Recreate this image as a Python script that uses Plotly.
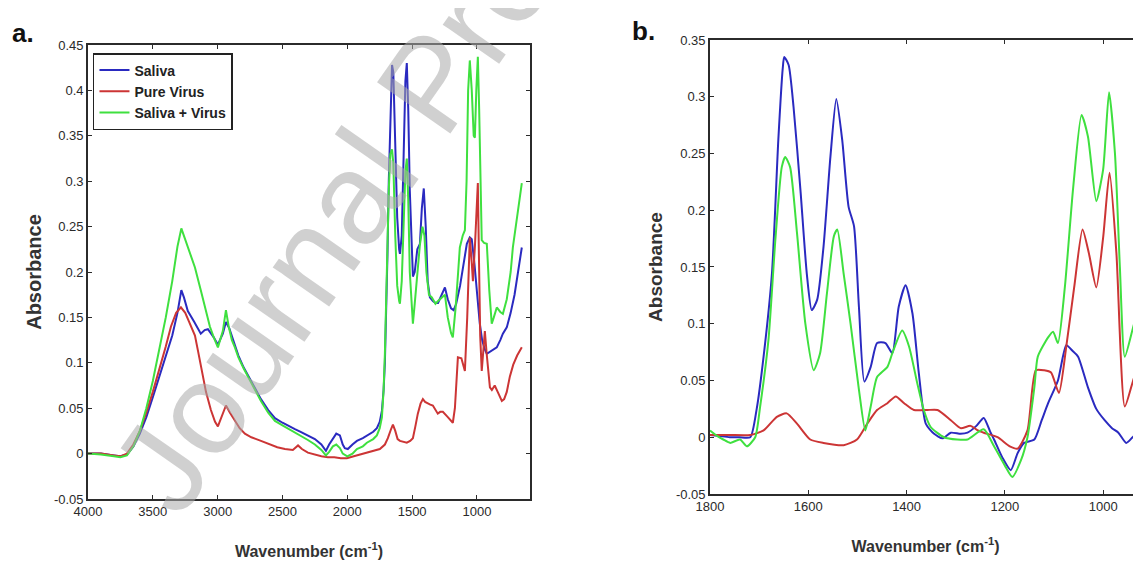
import plotly.graph_objects as go

# ---------------- Panel a data ----------------
wn_saliva_a = [4000,3900,3800,3750,3700,3650,3600,3550,3500,3450,3400,3350,3310,3280,3260,3230,3180,3130,3100,3075,3030,2998,2960,2936,2910,2880,2840,2800,2766,2720,2666,2610,2558,2500,2450,2404,2360,2304,2250,2200,2165,2140,2111,2085,2057,2035,2019,1996,1960,1926,1880,1849,1800,1772,1750,1733,1720,1710,1700,1690,1680,1668,1655,1645,1630,1615,1600,1594,1580,1565,1552,1541,1530,1518,1502,1494,1480,1460,1440,1425,1410,1395,1380,1363,1340,1320,1300,1270,1247,1225,1200,1180,1160,1130,1100,1078,1055,1040,1020,1000,978,960,940,924,900,870,847,820,800,770,740,710,693,670,654]
abs_saliva_a = [0.000,0.000,-0.002,-0.003,-0.001,0.008,0.022,0.040,0.062,0.085,0.108,0.130,0.155,0.180,0.172,0.157,0.145,0.132,0.136,0.137,0.128,0.120,0.132,0.145,0.138,0.125,0.108,0.095,0.086,0.074,0.060,0.048,0.039,0.034,0.030,0.027,0.024,0.020,0.016,0.010,0.003,0.010,0.017,0.022,0.020,0.010,0.006,0.005,0.010,0.014,0.017,0.020,0.024,0.028,0.035,0.047,0.070,0.100,0.150,0.220,0.300,0.380,0.428,0.420,0.330,0.260,0.225,0.220,0.240,0.320,0.410,0.430,0.380,0.290,0.230,0.195,0.200,0.225,0.231,0.270,0.292,0.250,0.190,0.172,0.168,0.166,0.166,0.175,0.183,0.170,0.160,0.158,0.165,0.185,0.210,0.231,0.238,0.236,0.210,0.175,0.143,0.125,0.115,0.110,0.112,0.115,0.117,0.125,0.132,0.139,0.155,0.175,0.190,0.210,0.227]

wn_virus_a = [4000,3900,3800,3750,3700,3650,3600,3550,3500,3450,3400,3360,3320,3283,3250,3220,3175,3150,3129,3090,3052,3020,2998,2970,2936,2905,2867,2830,2790,2740,2666,2600,2540,2481,2420,2380,2350,2304,2250,2200,2150,2100,2050,2003,1950,1900,1849,1800,1749,1710,1687,1665,1648,1630,1612,1594,1565,1541,1515,1494,1475,1456,1435,1417,1400,1379,1360,1340,1320,1302,1283,1263,1230,1200,1186,1170,1155,1147,1120,1093,1075,1060,1055,1040,1031,1015,1000,993,985,975,963,950,939,925,910,900,885,863,840,808,790,770,746,720,690,654]
abs_virus_a = [0.000,0.000,-0.002,-0.003,0.000,0.010,0.025,0.045,0.068,0.092,0.118,0.140,0.155,0.161,0.155,0.145,0.130,0.112,0.095,0.068,0.048,0.035,0.030,0.040,0.053,0.045,0.036,0.028,0.022,0.018,0.014,0.010,0.007,0.005,0.004,0.009,0.005,0.001,-0.001,-0.003,-0.004,-0.004,-0.005,-0.005,-0.003,-0.001,0.001,0.003,0.005,0.010,0.017,0.026,0.032,0.025,0.016,0.014,0.013,0.012,0.014,0.017,0.030,0.044,0.055,0.060,0.057,0.055,0.054,0.053,0.049,0.044,0.046,0.046,0.041,0.036,0.034,0.050,0.080,0.106,0.105,0.091,0.150,0.225,0.238,0.210,0.190,0.230,0.280,0.298,0.220,0.130,0.091,0.120,0.135,0.110,0.085,0.073,0.070,0.075,0.068,0.058,0.060,0.068,0.085,0.098,0.108,0.117]

wn_mix_a = [4000,3900,3800,3750,3700,3650,3600,3550,3500,3450,3400,3350,3310,3280,3250,3200,3175,3130,3098,3060,3030,2998,2960,2936,2915,2890,2867,2840,2800,2766,2720,2666,2610,2558,2500,2450,2404,2360,2304,2250,2200,2165,2140,2111,2085,2057,2035,2000,1960,1926,1880,1849,1800,1772,1750,1733,1720,1710,1700,1690,1680,1668,1655,1645,1630,1615,1600,1594,1580,1565,1552,1541,1530,1518,1502,1494,1480,1460,1440,1420,1405,1390,1370,1348,1320,1300,1270,1247,1225,1200,1186,1165,1145,1132,1110,1093,1080,1068,1055,1040,1025,1016,1005,993,983,970,963,945,924,905,886,870,847,820,800,770,740,723,700,680,654]
abs_mix_a = [0.000,-0.001,-0.003,-0.004,-0.002,0.008,0.025,0.050,0.080,0.115,0.150,0.190,0.228,0.248,0.235,0.215,0.205,0.180,0.161,0.140,0.128,0.117,0.135,0.158,0.140,0.125,0.117,0.106,0.094,0.085,0.072,0.058,0.045,0.036,0.031,0.027,0.023,0.020,0.015,0.010,0.004,-0.002,0.002,0.008,0.010,0.006,0.000,-0.003,0.000,0.005,0.008,0.012,0.016,0.020,0.028,0.040,0.070,0.110,0.160,0.230,0.290,0.330,0.335,0.320,0.240,0.185,0.168,0.165,0.190,0.250,0.310,0.325,0.280,0.200,0.150,0.143,0.165,0.200,0.230,0.250,0.240,0.200,0.175,0.172,0.165,0.168,0.172,0.175,0.150,0.133,0.128,0.160,0.200,0.227,0.240,0.246,0.300,0.400,0.433,0.400,0.350,0.348,0.400,0.437,0.380,0.260,0.235,0.232,0.231,0.180,0.143,0.150,0.161,0.156,0.154,0.170,0.200,0.227,0.250,0.275,0.298]

# ---------------- Panel b data ----------------
wn_saliva_b = [1800,1780,1760,1740,1718,1705,1691,1674,1661,1652,1649,1640,1630,1616,1603,1593,1582,1569,1555,1543,1531,1518,1507,1497,1486,1473,1460,1443,1429,1416,1402,1388,1375,1361,1344,1327,1310,1290,1276,1258,1243,1230,1222,1205,1188,1174,1161,1140,1125,1112,1092,1075,1062,1051,1031,1014,997,982,969,953,940,929,920]
abs_saliva_b = [0.002,0.001,0.000,0.000,0.000,0.025,0.071,0.144,0.262,0.325,0.335,0.328,0.291,0.218,0.144,0.112,0.121,0.168,0.247,0.298,0.262,0.203,0.186,0.115,0.049,0.062,0.083,0.083,0.074,0.115,0.134,0.109,0.056,0.012,0.003,-0.001,0.004,0.003,0.004,0.010,0.017,0.005,-0.002,-0.018,-0.029,-0.014,-0.005,-0.002,0.015,0.030,0.050,0.081,0.076,0.071,0.044,0.025,0.015,0.008,0.004,-0.005,0.000,0.004,0.006]

wn_virus_b = [1800,1760,1718,1691,1664,1644,1623,1596,1569,1528,1501,1480,1460,1439,1422,1405,1385,1358,1337,1310,1290,1270,1255,1243,1215,1190,1174,1154,1137,1120,1106,1090,1075,1059,1042,1029,1014,1000,987,973,956,939,922]
abs_virus_b = [0.002,0.002,0.002,0.006,0.018,0.021,0.012,-0.002,-0.005,-0.007,-0.002,0.012,0.024,0.030,0.036,0.030,0.024,0.024,0.024,0.015,0.008,0.010,0.006,0.004,0.000,-0.008,-0.010,0.006,0.059,0.059,0.057,0.039,0.080,0.132,0.183,0.162,0.132,0.176,0.233,0.162,0.027,0.050,0.071]

wn_mix_b = [1800,1785,1773,1759,1739,1725,1708,1698,1681,1667,1654,1647,1637,1623,1606,1589,1576,1562,1548,1541,1528,1514,1497,1484,1473,1460,1439,1429,1409,1395,1378,1365,1351,1324,1297,1276,1243,1222,1200,1185,1167,1154,1140,1133,1112,1102,1092,1078,1061,1044,1031,1014,1000,988,976,966,956,939,922]
abs_mix_b = [0.006,0.001,-0.002,-0.005,-0.002,-0.008,0.000,0.027,0.086,0.174,0.238,0.247,0.238,0.180,0.100,0.059,0.074,0.127,0.177,0.183,0.144,0.100,0.042,0.006,0.027,0.053,0.062,0.074,0.094,0.080,0.047,0.024,0.009,0.000,-0.002,-0.002,0.007,-0.008,-0.025,-0.035,-0.020,0.000,0.044,0.071,0.088,0.093,0.083,0.132,0.220,0.284,0.265,0.208,0.236,0.304,0.250,0.150,0.071,0.097,0.123]

series_names = ["<b>Saliva</b>", "<b>Pure Virus</b>", "<b>Saliva + Virus</b>"]
series_colors = ["#2a2ac0", "#cc3535", "#3fe03f"]

xtick_vals_a = [4000, 3500, 3000, 2500, 2000, 1500, 1000]
xtick_text_a = ["4000", "3500", "3000", "2500", "2000", "1500", "1000"]
ytick_vals_a = [-0.05, 0, 0.05, 0.1, 0.15, 0.2, 0.25, 0.3, 0.35, 0.4, 0.45]
ytick_text_a = ["-0.05", "0", "0.05", "0.1", "0.15", "0.2", "0.25", "0.3", "0.35", "0.4", "0.45"]
xtick_vals_b = [1800, 1600, 1400, 1200, 1000]
xtick_text_b = ["1800", "1600", "1400", "1200", "1000"]
ytick_vals_b = [-0.05, 0, 0.05, 0.1, 0.15, 0.2, 0.25, 0.3, 0.35]
ytick_text_b = ["-0.05", "0", "0.05", "0.1", "0.15", "0.2", "0.25", "0.3", "0.35"]

FONT = "Liberation Sans, Arial, sans-serif"

fig = go.Figure()
panel_a = [(wn_saliva_a, abs_saliva_a), (wn_virus_a, abs_virus_a), (wn_mix_a, abs_mix_a)]
panel_b = [(wn_saliva_b, abs_saliva_b), (wn_virus_b, abs_virus_b), (wn_mix_b, abs_mix_b)]
for i, (xs, ys) in enumerate(panel_a):
    fig.add_trace(go.Scatter(x=xs, y=ys, mode="lines", name=series_names[i],
                             line=dict(color=series_colors[i], width=2),
                             xaxis="x", yaxis="y", showlegend=True))
for i, (xs, ys) in enumerate(panel_b):
    fig.add_trace(go.Scatter(x=xs, y=ys, mode="lines", name=series_names[i],
                             line=dict(color=series_colors[i], width=2, shape="spline", smoothing=0.6),
                             xaxis="x2", yaxis="y2", showlegend=False))

axis_common = dict(showline=True, linecolor="#2b2b2b", linewidth=1.6, ticks="inside",
                   ticklen=4, tickcolor="#2b2b2b", showgrid=False, zeroline=False,
                   tickfont=dict(family=FONT, size=13, color="#2a2a2a"), automargin=False)

xtitle = "<b>Wavenumber (cm<sup>-1</sup>)</b>"

# The page body adds an 8 px offset, so the figure is 8 px smaller than the window.
fig.update_layout(
    width=1133, height=553,
    margin=dict(l=0, r=0, t=0, b=0),
    paper_bgcolor="white", plot_bgcolor="white",
    font=dict(family=FONT, color="#333333"),
    xaxis=dict(domain=[0.0706, 0.4607], range=[4000, 591], anchor="y", mirror="ticks",
               tickvals=xtick_vals_a, ticktext=xtick_text_a,
               title=dict(text=xtitle, font=dict(size=16, color="#333333"), standoff=27),
               **axis_common),
    yaxis=dict(domain=[0.1121, 0.9331], range=[-0.05, 0.45], anchor="x", mirror="ticks",
               tickvals=ytick_vals_a, ticktext=ytick_text_a,
               title=dict(text="<b>Absorbance</b>", font=dict(size=20, color="#333333"), standoff=7),
               **axis_common),
    xaxis2=dict(domain=[0.6196, 1.0], range=[1800, 923], anchor="y2", mirror="ticks",
                tickvals=xtick_vals_b, ticktext=xtick_text_b,
                title=dict(text=xtitle, font=dict(size=16, color="#333333"), standoff=27),
                **axis_common),
    yaxis2=dict(domain=[0.1212, 0.9421], range=[-0.05, 0.35], anchor="x2", mirror=False,
                tickvals=ytick_vals_b, ticktext=ytick_text_b,
                title=dict(text="<b>Absorbance</b>", font=dict(size=19, color="#333333"), standoff=8),
                **axis_common),
    legend=dict(x=0.075, y=0.9186, xanchor="left", yanchor="top",
                bgcolor="white", bordercolor="#222222", borderwidth=1.5,
                font=dict(family=FONT, size=14, color="#222222"),
                tracegroupgap=0),
    annotations=[
        dict(text="<b>a.</b>", x=0.0132, y=0.9548, xref="paper", yref="paper",
             xanchor="center", yanchor="middle",
             showarrow=False, font=dict(family=FONT, size=26, color="#111111")),
        dict(text="<b>b.</b>", x=0.5613, y=0.9584, xref="paper", yref="paper",
             xanchor="center", yanchor="middle",
             showarrow=False, font=dict(family=FONT, size=26, color="#111111")),
        dict(text="Journal Pre-proof", x=0.3725, y=0.8626, xref="paper", yref="paper",
             xanchor="center", yanchor="middle",
             showarrow=False, textangle=-55,
             font=dict(family=FONT, size=130, color="rgba(170,170,170,0.55)")),
    ],
)

fig.write_html("out.html")
